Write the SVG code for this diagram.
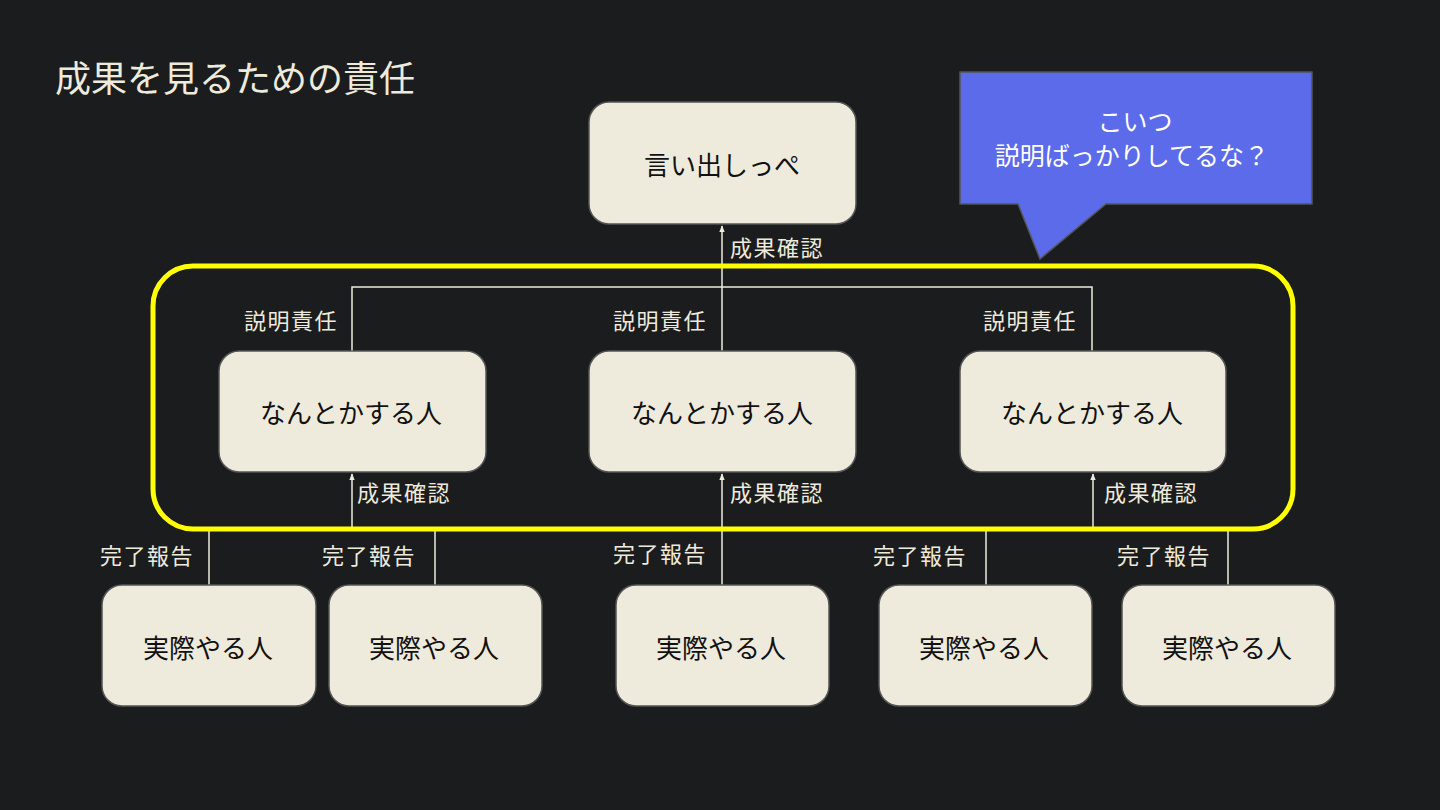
<svg xmlns="http://www.w3.org/2000/svg" width="1440" height="810" viewBox="0 0 1440 810">
<style>
.bg{fill:#1b1c1e}
.node rect{fill:#eeebdd;stroke:#555555;stroke-width:1.5}
.node text{font-family:"Noto Sans CJK JP","Noto Sans",sans-serif;font-size:26px;fill:#111111;text-anchor:middle;dominant-baseline:central}
.lbl{font-family:"Noto Sans CJK JP","Noto Sans",sans-serif;font-size:22px;fill:#eeebdd;letter-spacing:1.5px}
.ln{fill:none;stroke:#eeebdd;stroke-width:1.5}
.title{font-family:"Noto Sans CJK JP","Noto Sans",sans-serif;font-size:36px;fill:#eeebdd}
.bub{font-family:"Noto Sans CJK JP","Noto Sans",sans-serif;font-size:25px;fill:#ffffff;text-anchor:middle}
</style>
<defs>
<marker id="ah" viewBox="0 0 10 10" refX="9" refY="5" markerWidth="7" markerHeight="7" orient="auto" markerUnits="userSpaceOnUse">
<path d="M0,1 L10,5 L0,9 Z" fill="#eeebdd"/>
</marker>
</defs>
<rect class="bg" x="0" y="0" width="1440" height="810"/>
<text class="title" x="55" y="92">成果を見るための責任</text>

<g id="connectors">
<path class="ln" d="M722,287 L722,226" marker-end="url(#ah)"/>
<path class="ln" d="M352,351 L352,287 L1092,287 L1092,351"/>
<path class="ln" d="M722,287 L722,351"/>
<path class="ln" d="M209,585 L209,530 L435,530 L435,585"/>
<path class="ln" d="M352,530 L352,474" marker-end="url(#ah)"/>
<path class="ln" d="M722,585 L722,474" marker-end="url(#ah)"/>
<path class="ln" d="M986,585 L986,530 L1228,530 L1228,585"/>
<path class="ln" d="M1093,530 L1093,474" marker-end="url(#ah)"/>
</g>

<rect id="group-box" x="153" y="266" width="1140" height="263" rx="40" fill="none" stroke="#ffff00" stroke-width="5"/>

<g id="labels">
<text class="lbl" x="244" y="329">説明責任</text>
<text class="lbl" x="613" y="329">説明責任</text>
<text class="lbl" x="983" y="329">説明責任</text>
<text class="lbl" x="730" y="256">成果確認</text>
<text class="lbl" x="357" y="501">成果確認</text>
<text class="lbl" x="730" y="501">成果確認</text>
<text class="lbl" x="1104" y="501">成果確認</text>
<text class="lbl" x="100" y="564">完了報告</text>
<text class="lbl" x="322" y="564">完了報告</text>
<text class="lbl" x="613" y="562">完了報告</text>
<text class="lbl" x="873" y="564">完了報告</text>
<text class="lbl" x="1117" y="564">完了報告</text>
</g>

<g id="n-top" class="node"><rect x="589" y="102" width="267" height="122" rx="20"/><text x="722" y="163">言い出しっぺ</text></g>
<g id="n-mid1" class="node"><rect x="219" y="351" width="267" height="121" rx="20"/><text x="351" y="411">なんとかする人</text></g>
<g id="n-mid2" class="node"><rect x="589" y="351" width="267" height="121" rx="20"/><text x="722" y="411">なんとかする人</text></g>
<g id="n-mid3" class="node"><rect x="960" y="351" width="266" height="121" rx="20"/><text x="1092" y="411">なんとかする人</text></g>
<g id="n-b1" class="node"><rect x="102" y="585" width="214" height="121" rx="20"/><text x="208" y="646">実際やる人</text></g>
<g id="n-b2" class="node"><rect x="329" y="585" width="213" height="121" rx="20"/><text x="434" y="646">実際やる人</text></g>
<g id="n-b3" class="node"><rect x="616" y="585" width="213" height="121" rx="20"/><text x="721" y="646">実際やる人</text></g>
<g id="n-b4" class="node"><rect x="879" y="585" width="213" height="121" rx="20"/><text x="984" y="646">実際やる人</text></g>
<g id="n-b5" class="node"><rect x="1122" y="585" width="213" height="121" rx="20"/><text x="1227" y="646">実際やる人</text></g>

<g id="bubble">
<path d="M960,72 L1312,72 L1312,204 L1106,204 L1040,259 L1018,204 L960,204 Z" fill="#5b6be9" stroke="#555555" stroke-width="1.5"/>
<text class="bub" x="1135" y="131">こいつ</text>
<text class="bub" x="1132" y="165">説明ばっかりしてるな？</text>
</g>
</svg>
